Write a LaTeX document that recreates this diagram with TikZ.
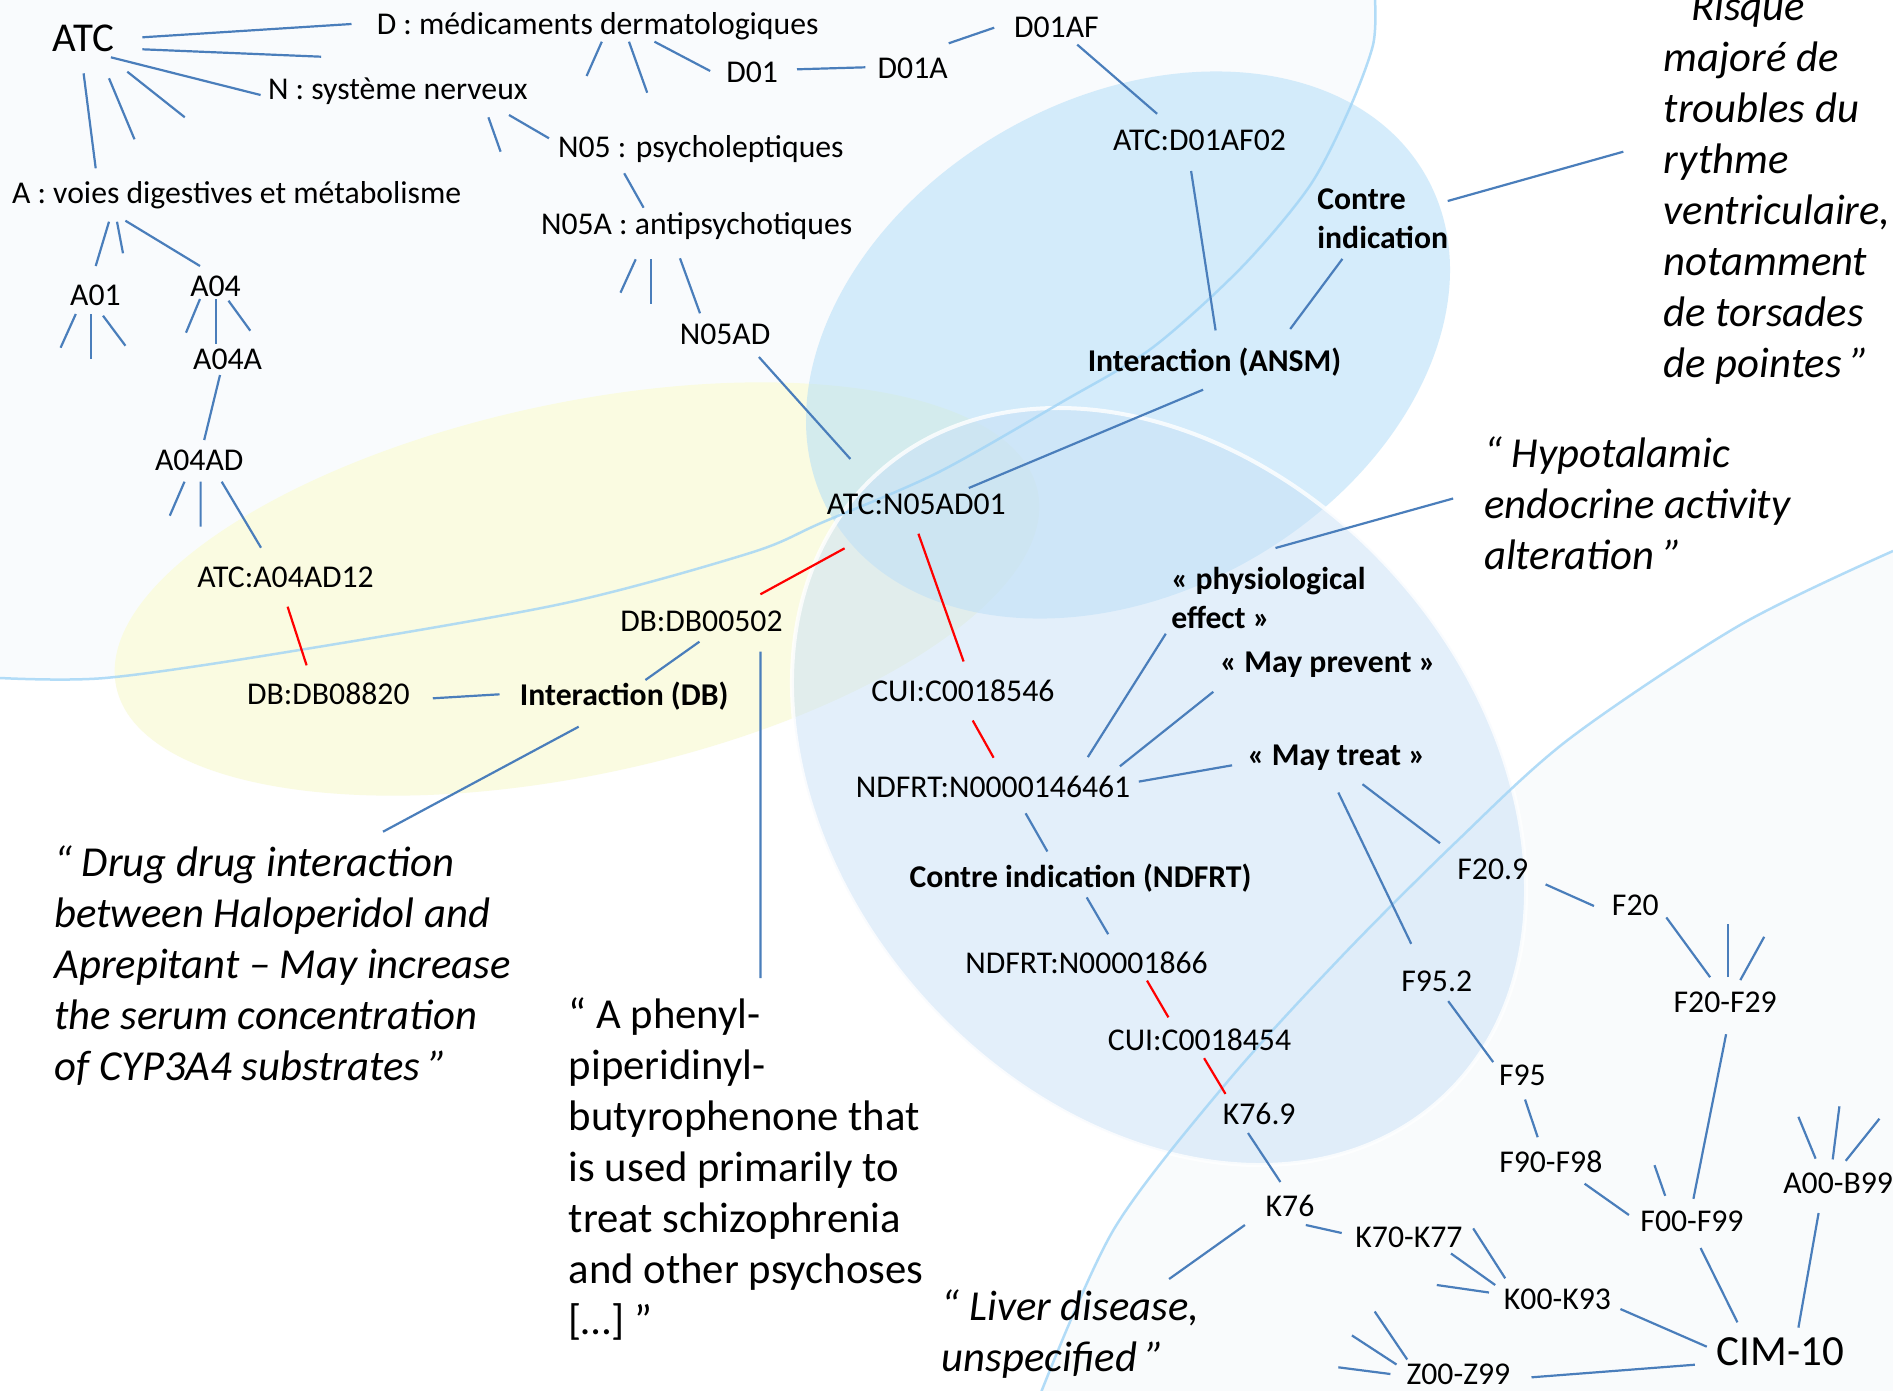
\documentclass[tikz,border=0pt]{standalone}
\usepackage{fontspec}
\setmainfont{Carlito}
\definecolor{lineblue}{RGB}{74,126,187}
\definecolor{tlfill}{RGB}{249,251,253}
\definecolor{brfill}{RGB}{249,251,252}
\definecolor{yel}{RGB}{250,251,225}
\definecolor{ansmc}{RGB}{180,222,248}
\definecolor{lowb}{RGB}{201,225,247}
\definecolor{rimc}{RGB}{160,212,246}
\begin{document}
\begin{tikzpicture}[x=1pt,y=-1pt,
  lbl/.style={font=\fontsize{31.7}{38.6}\selectfont, anchor=base, inner sep=0pt},
  blbl/.style={font=\fontsize{31.7}{38.6}\selectfont\bfseries, anchor=base, inner sep=0pt},
  blbltwo/.style={blbl, anchor=north west, align=left},
  rootlbl/.style={font=\fontsize{41}{49}\selectfont, anchor=base, inner sep=0pt},
  qtext/.style={font=\fontsize{42.7}{51}\selectfont\itshape, anchor=north west, align=left, inner sep=0pt},
  uqtext/.style={font=\fontsize{42.7}{51}\selectfont, anchor=north west, align=left, inner sep=0pt},
  blink/.style={draw=lineblue, line width=2.2pt},
  rlink/.style={draw=red, line width=2.2pt},
  rim/.style={draw=rimc, line width=2.5pt, opacity=0.8}]
\useasboundingbox (0,0) rectangle (1893,1390);
\clip (0,0) rectangle (1893,1390);
% backgrounds
\fill[white] (0,0) rectangle (1893,1390);
\fill[tlfill] (-5,-5) -- (1380,-5) -- plot[smooth] coordinates {(1375,0) (1373,45) (1348,112) (1309,187) (1241,268) (1152,348) (1062,402) (937,473) (821,523) (750,553) (561,604) (281,653) (105,678) (0,678)} -- (-5,678) -- cycle;
\fill[brfill] (1898,551) -- plot[smooth] coordinates {(1893,551) (1740,625) (1569,739) (1456,842) (1342,956) (1228,1081) (1114,1229) (1040,1395)} -- (1898,1395) -- cycle;
\fill[yel, rotate around={12:(577,589)}] (577,589) ellipse [x radius=471pt, y radius=186pt];
\fill[ansmc, fill opacity=0.55, rotate around={29.6:(1128,345)}] (1128,345) ellipse [x radius=342.6pt, y radius=247.2pt];
\fill[lowb, fill opacity=0.5, rotate around={-48.2:(1159,786.5)}] (1159,786.5) ellipse [x radius=421pt, y radius=317.4pt];
\draw[white, line width=4pt, opacity=0.8, rotate around={-48.2:(1159,786.5)}] (1159,786.5) ellipse [x radius=421pt, y radius=317.4pt];
\draw[rim] plot[smooth] coordinates {(1375,0) (1373,45) (1348,112) (1309,187) (1241,268) (1152,348) (1062,402) (937,473) (821,523) (750,553) (561,604) (281,653) (105,678) (0,678)};
\draw[rim] plot[smooth] coordinates {(1893,551) (1740,625) (1569,739) (1456,842) (1342,956) (1228,1081) (1114,1229) (1040,1395)};
% nodes
\node[rootlbl] (atc) at (83.3,51.6) {ATC};
\node[lbl] (d) at (597.6,34) {D : médicaments dermatologiques};
\node[lbl] (n) at (397.8,99.3) {N : système nerveux};
\node[lbl] (a) at (236.6,203.2) {A : voies digestives et métabolisme};
\node[lbl] (d01) at (752.1,82.4) {D01};
\node[lbl] (d01a) at (912.7,78.8) {D01A};
\node[lbl] (d01af) at (1056.4,37.8) {D01AF};
\node[lbl] (n05) at (700.8,157.3) {N05 : psycholeptiques};
\node[lbl] (n05a) at (696.6,234.6) {N05A : antipsychotiques};
\node[lbl] (n05ad) at (725,344.4) {N05AD};
\node[lbl] (atcd) at (1199.5,150) {ATC:D01AF02};
\node[blbl] (ansm) at (1214.5,371) {Interaction (ANSM)};
\node[blbltwo] (ci) at (1317.2,182.2) {\strut Contre\\indication};
\node[lbl] (a01) at (95.4,305.8) {A01};
\node[lbl] (a04) at (215.5,296.1) {A04};
\node[lbl] (a04a) at (227.6,369.8) {A04A};
\node[lbl] (a04ad) at (199.2,470) {A04AD};
\node[lbl] (atca) at (285.5,587.1) {ATC:A04AD12};
\node[lbl] (db088) at (328.4,704.2) {DB:DB08820};
\node[blbl] (intdb) at (624.2,705.4) {Interaction (DB)};
\node[lbl] (db005) at (701.4,631.8) {DB:DB00502};
\node[lbl] (atcn) at (916.3,514.7) {ATC:N05AD01};
\node[lbl] (cui1) at (962.8,701.8) {CUI:C0018546};
\node[lbl] (ndf1) at (993,797.2) {NDFRT:N0000146461};
\node[blbl] (cindf) at (1080.5,887.7) {Contre indication (NDFRT)};
\node[lbl] (ndf2) at (1086.6,973.4) {NDFRT:N00001866};
\node[lbl] (cui2) at (1199.5,1050.7) {CUI:C0018454};
\node[lbl] (k769) at (1259.2,1124.3) {K76.9};
\node[lbl] (k76) at (1290,1216.1) {K76};
\node[lbl] (k70) at (1408.9,1247.5) {K70-K77};
\node[lbl] (k00) at (1557.4,1309) {K00-K93};
\node[lbl] (z00) at (1458.4,1384) {Z00-Z99};
\node[rootlbl, font=\fontsize{43}{51}\selectfont] (cim) at (1780.2,1365.2) {CIM-10};
\node[lbl] (f00) at (1692,1231.8) {F00-F99};
\node[lbl] (a00) at (1838.1,1193.2) {A00-B99};
\node[lbl] (f90) at (1550.8,1172.6) {F90-F98};
\node[lbl] (f95) at (1522.4,1085.7) {F95};
\node[lbl] (f952) at (1436.7,991.5) {F95.2};
\node[lbl] (f2029) at (1725.2,1012) {F20-F29};
\node[lbl] (f20) at (1635.3,915.5) {F20};
\node[lbl] (f209) at (1492.8,879.3) {F20.9};
\node[blbl] (mtreat) at (1336.5,765.8) {« May treat »};
\node[blbl] (mprev) at (1328,672.8) {« May prevent »};
\node[blbltwo] (phys) at (1171.1,562.5) {\strut« physiological\\effect »};
\node[qtext] (qrisk) at (1663.7,-15) {\strut“ Risque\\majoré de\\troubles du\\rythme\\ventriculaire,\\notamment\\de torsades\\de pointes ”};
\node[qtext] (qhyp) at (1484,431.3) {\strut“ Hypotalamic\\endocrine activity\\alteration ”};
\node[qtext] (qdrug) at (54.3,840.3) {\strut“ Drug drug interaction\\between Haloperidol and\\Aprepitant – May increase\\the serum concentration\\of CYP3A4 substrates ”};
\node[uqtext] (qphen) at (568.6,992.3) {\strut“ A phenyl-\\piperidinyl-\\butyrophenone that\\is used primarily to\\treat schizophrenia\\and other psychoses\\{}[…] ”};
\node[qtext] (qliver) at (941.7,1284.8) {\strut“ Liver disease,\\unspecified ”};
% connectors
\draw[blink] ([shift={(59.1,-14.3)}]atc.base) -- ([shift={(-246.1,-10)}]d.base);
\draw[blink] ([shift={(59.1,-2.3)}]atc.base) -- (321.2,56.7);
\draw[blink] ([shift={(27.6,5.7)}]atc.base) -- ([shift={(-137.2,-4.3)}]n.base);
\draw[blink] ([shift={(0.3,21.7)}]atc.base) -- ([shift={(-140.9,-34.9)}]a.base);
\draw[blink] ([shift={(25.7,26.7)}]atc.base) -- (134.5,139.3);
\draw[blink] ([shift={(44,20.1)}]atc.base) -- (184.8,117.3);
\draw[blink] ([shift={(4.2,7.7)}]d.base) -- (586.6,76);
\draw[blink] ([shift={(31.4,7.7)}]d.base) -- (647.2,92.7);
\draw[blink] ([shift={(56.9,7.7)}]d.base) -- ([shift={(-41.9,-11.4)}]d01.base);
\draw[blink] ([shift={(44.9,-13.1)}]d01.base) -- ([shift={(-47.3,-11.5)}]d01a.base);
\draw[blink] ([shift={(36,-35.5)}]d01a.base) -- ([shift={(-62.2,-10.1)}]d01af.base);
\draw[blink] ([shift={(20.8,6.8)}]d01af.base) -- ([shift={(-42.4,-36.2)}]atcd.base);
\draw[blink] ([shift={(-8.4,21)}]atcd.base) -- ([shift={(1.1,-40.6)}]ansm.base);
\draw[blink] ([shift={(25.2,76.7)}]ci.north west) -- ([shift={(75.7,-42)}]ansm.base);
\draw[blink] ([shift={(130.5,18.8)}]ci.north west) -- ([shift={(-40.4,166.7)}]qrisk.north west);
\draw[blink] ([shift={(-11.4,18.7)}]ansm.base) -- ([shift={(52.5,-26.7)}]atcn.base);
\draw[blink] ([shift={(90.6,18)}]n.base) -- (500.6,151.7);
\draw[blink] ([shift={(111.2,15.7)}]n.base) -- ([shift={(-151.8,-19)}]n05.base);
\draw[blink] ([shift={(-76.6,16)}]n05.base) -- ([shift={(-53,-26.9)}]n05a.base);
\draw[blink] ([shift={(-60.9,24.7)}]n05a.base) -- (620.5,292.7);
\draw[blink] ([shift={(-45.8,24.7)}]n05a.base) -- (650.8,304);
\draw[blink] ([shift={(-16.6,23.7)}]n05a.base) -- ([shift={(-25,-31.1)}]n05ad.base);
\draw[blink] ([shift={(33.9,12.6)}]n05ad.base) -- ([shift={(-65.9,-55.7)}]atcn.base);
\draw[blink] ([shift={(-127.6,18.5)}]a.base) -- ([shift={(0.3,-39.8)}]a01.base);
\draw[blink] ([shift={(-119.6,18.5)}]a.base) -- (123,253.3);
\draw[blink] ([shift={(-111.2,17.5)}]a.base) -- ([shift={(-15.5,-30.1)}]a04.base);
\draw[blink] ([shift={(-19.6,8.2)}]a01.base) -- (60.6,347.7);
\draw[blink] ([shift={(-4.5,8.2)}]a01.base) -- (90.9,359.3);
\draw[blink] ([shift={(7.6,9.9)}]a01.base) -- (125.4,345.7);
\draw[blink] ([shift={(-15.5,2.9)}]a04.base) -- (186,332.7);
\draw[blink] ([shift={(0.8,2.9)}]a04.base) -- ([shift={(-11.3,-25.8)}]a04a.base);
\draw[blink] ([shift={(13,4.6)}]a04.base) -- (250.3,330.7);
\draw[blink] ([shift={(-7.6,5.2)}]a04a.base) -- ([shift={(5,-30)}]a04ad.base);
\draw[blink] ([shift={(-14.7,11.7)}]a04ad.base) -- (169.8,515.7);
\draw[blink] ([shift={(1.4,11.7)}]a04ad.base) -- (200.6,526.7);
\draw[blink] ([shift={(22.5,11.7)}]a04ad.base) -- ([shift={(-24.5,-39.4)}]atca.base);
\draw[rlink] ([shift={(2.1,19.6)}]atca.base) -- ([shift={(-21.8,-38.9)}]db088.base);
\draw[blink] ([shift={(104.4,-5.9)}]db088.base) -- ([shift={(-124.7,-11.1)}]intdb.base);
\draw[blink] ([shift={(-2,9.9)}]db005.base) -- ([shift={(21.2,-25.4)}]intdb.base);
\draw[blink] ([shift={(-45.5,21.3)}]intdb.base) -- ([shift={(328.7,-8.6)}]qdrug.north west);
\draw[rlink] ([shift={(-71.7,33.6)}]atcn.base) -- ([shift={(59,-37.5)}]db005.base);
\draw[blink] ([shift={(59,19.9)}]db005.base) -- ([shift={(191.8,-14.3)}]qphen.north west);
\draw[rlink] ([shift={(2.1,19)}]atcn.base) -- ([shift={(0.8,-40.3)}]cui1.base);
\draw[rlink] ([shift={(9.9,18.7)}]cui1.base) -- ([shift={(0.6,-39.5)}]ndf1.base);
\draw[blink] ([shift={(94.8,-40.1)}]ndf1.base) -- ([shift={(-5.3,71.2)}]phys.north west);
\draw[blink] ([shift={(126.9,-30.9)}]ndf1.base) -- ([shift={(-114.7,19)}]mprev.base);
\draw[blink] ([shift={(145.8,-15.6)}]ndf1.base) -- ([shift={(-104.4,-0.5)}]mtreat.base);
\draw[blink] ([shift={(104.4,-14.5)}]phys.north west) -- ([shift={(-30.9,67.2)}]qhyp.north west);
\draw[blink] ([shift={(32.6,16.1)}]ndf1.base) -- ([shift={(-33.1,-36.2)}]cindf.base);
\draw[blink] ([shift={(26,18.4)}]mtreat.base) -- ([shift={(-52.8,-36.1)}]f209.base);
\draw[blink] ([shift={(1.8,26.7)}]mtreat.base) -- ([shift={(-25.5,-47.7)}]f952.base);
\draw[blink] ([shift={(6.2,9.7)}]cindf.base) -- ([shift={(21.6,-39.2)}]ndf2.base);
\draw[rlink] ([shift={(60.4,7.2)}]ndf2.base) -- ([shift={(-31.1,-33.4)}]cui2.base);
\draw[rlink] ([shift={(4.6,7.5)}]cui2.base) -- ([shift={(-33.7,-30.4)}]k769.base);
\draw[blink] ([shift={(-11.2,8.7)}]k769.base) -- ([shift={(-9.6,-34.1)}]k76.base);
\draw[blink] ([shift={(-45.1,8.9)}]k76.base) -- ([shift={(227.4,-5.8)}]qliver.north west);
\draw[blink] ([shift={(15.8,8.9)}]k76.base) -- ([shift={(-67.2,-14.5)}]k70.base);
\draw[blink] ([shift={(42.1,6)}]k70.base) -- ([shift={(-62.2,-24)}]k00.base);
\draw[blink] ([shift={(-52.2,-30.7)}]k00.base) -- (1473.2,1228.4);
\draw[blink] ([shift={(-68.4,-16.5)}]k00.base) -- (1436.8,1285);
\draw[blink] ([shift={(63,0)}]k00.base) -- ([shift={(-73.4,-18.5)}]cim.base);
\draw[blink] ([shift={(-51.2,-24.5)}]z00.base) -- (1374.7,1311.5);
\draw[blink] ([shift={(-61.9,-19.5)}]z00.base) -- (1351.9,1335.4);
\draw[blink] ([shift={(-68,-10)}]z00.base) -- (1338.3,1367.3);
\draw[blink] ([shift={(73.1,-6.7)}]z00.base) -- ([shift={(-85.3,-0.5)}]cim.base);
\draw[blink] ([shift={(8.6,16.2)}]f00.base) -- ([shift={(-42.8,-42.9)}]cim.base);
\draw[blink] ([shift={(-19.5,19.8)}]a00.base) -- ([shift={(18.2,-37.6)}]cim.base);
\draw[blink] ([shift={(-22.5,-34.6)}]a00.base) -- (1798.4,1116.8);
\draw[blink] ([shift={(-5.4,-33.8)}]a00.base) -- (1839.4,1106.3);
\draw[blink] ([shift={(7.6,-32.4)}]a00.base) -- (1879.4,1118.7);
\draw[blink] ([shift={(-26.8,-36)}]f00.base) -- (1654.5,1165.2);
\draw[blink] ([shift={(33.8,11.1)}]f90.base) -- ([shift={(-63.1,-16.8)}]f00.base);
\draw[blink] ([shift={(2.6,13.8)}]f95.base) -- ([shift={(-13.1,-35.4)}]f90.base);
\draw[blink] ([shift={(11.5,9.6)}]f952.base) -- ([shift={(-29.2,-23.6)}]f95.base);
\draw[blink] ([shift={(1.4,-33)}]f00.base) -- ([shift={(0.9,22.2)}]f2029.base);
\draw[blink] ([shift={(-15.1,-34.8)}]f2029.base) -- ([shift={(31,1.9)}]f20.base);
\draw[blink] ([shift={(2.6,-34.8)}]f2029.base) -- (1727.8,924.3);
\draw[blink] ([shift={(15.1,-31.9)}]f2029.base) -- (1764.2,936.8);
\draw[blink] ([shift={(-41.3,-9.5)}]f20.base) -- ([shift={(52.8,5.1)}]f209.base);
\end{tikzpicture}
\end{document}
